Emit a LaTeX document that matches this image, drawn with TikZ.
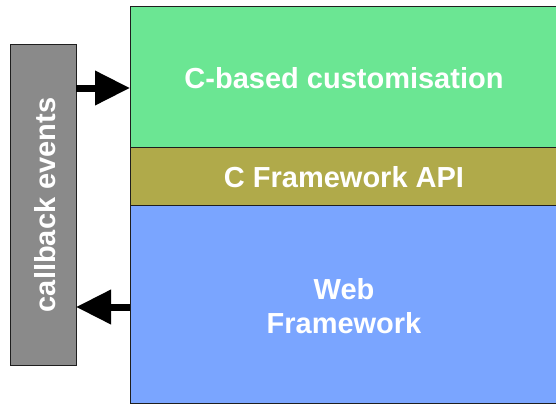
\documentclass[tikz,border=0pt]{standalone}
\usepackage{fontspec}
\setmainfont{Liberation Sans}
\usetikzlibrary{arrows.meta}
\definecolor{cgreen}{RGB}{107,230,147}
\definecolor{colive}{RGB}{176,170,74}
\definecolor{cblue}{RGB}{122,165,255}
\definecolor{cgray}{RGB}{138,138,138}
\definecolor{cborder}{RGB}{30,30,30}
\tikzset{
  layer/.style={draw=cborder, line width=1pt, inner sep=0pt},
  lbl/.style={text=white, font=\fontsize{29}{34}\selectfont\bfseries, align=center},
  bigarrow/.style={line width=7pt, -{Triangle[length=35pt,width=33pt]}, shorten >=0pt}
}
\begin{document}
\begin{tikzpicture}[x=1pt,y=-1pt]
\useasboundingbox (0,0) rectangle (556,405);
\begin{scope}
\clip (0,0) rectangle (556,405);
\draw[layer, fill=cgreen] (130,6.5) rectangle (570,147);
\draw[layer, fill=colive] (130,147) rectangle (570,205);
\draw[layer, fill=cblue] (130,205) rectangle (570,403);
\end{scope}
\coordinate (gtop) at (130,6.5);
\node[lbl] (custom) at (344,78) {C-based customisation};
\node[lbl] (api) at (344,177) {C Framework API};
\node[lbl] (web) at (344,306) {Web\\Framework};
\draw[layer, fill=cgray] (10,44.5) rectangle (76,365.5);
\node[lbl, rotate=90] (cb) at (45,205) {callback events};
\coordinate (cbR1) at (76,88);
\coordinate (stL1) at (130,88);
\coordinate (cbR2) at (76,307);
\coordinate (stL2) at (130,307);
\draw[bigarrow] (cbR1) -- (stL1);
\draw[bigarrow] (stL2) -- (cbR2);
\end{tikzpicture}
\end{document}
